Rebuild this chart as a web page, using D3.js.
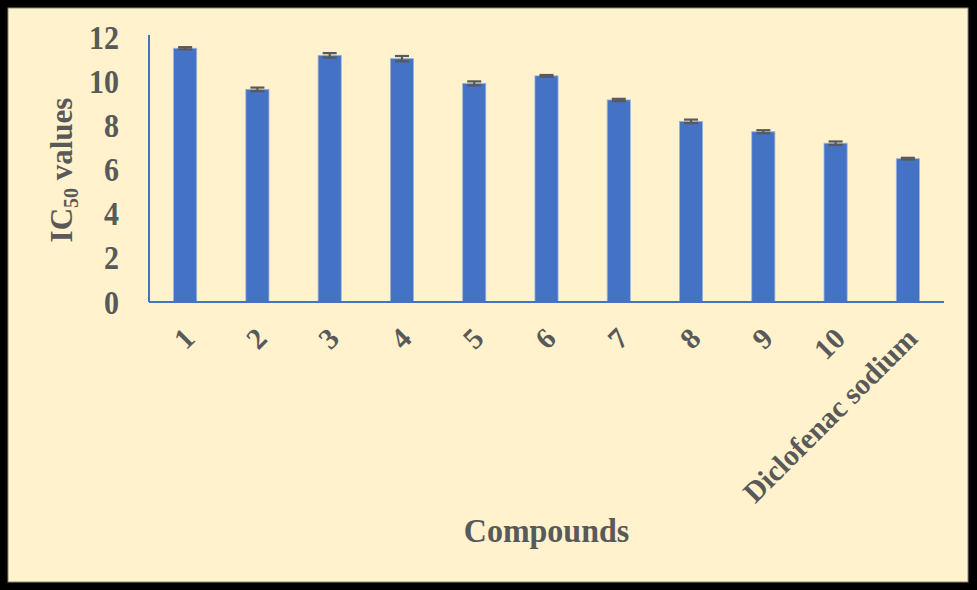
<!DOCTYPE html>
<html><head><meta charset="utf-8">
<script src="https://cdn.jsdelivr.net/npm/d3@7"></script>
<style>body{margin:0;background:#000}svg{display:block}</style>
</head><body>
<script>
const categories = ["1","2","3","4","5","6","7","8","9","10","Diclofenac sodium"];
const values = [11.49, 9.63, 11.17, 11.02, 9.90, 10.24, 9.15, 8.18, 7.71, 7.19, 6.49];
const errors = [0.05, 0.08, 0.10, 0.12, 0.09, 0.04, 0.05, 0.08, 0.07, 0.08, 0.04];
const yTicks = [0, 2, 4, 6, 8, 10, 12];

(function () {
const W = 977, H = 590;
const svg = d3.select("body").append("svg").attr("width", W).attr("height", H);
svg.append("rect").attr("width", W).attr("height", H).attr("fill", "#000");
svg.append("rect").attr("x", 8).attr("y", 8).attr("width", 960).attr("height", 574)
  .attr("fill", "#FFF2CC").attr("stroke", "#8a8a7a").attr("stroke-width", 1);

const mLeft = 149, mRight = 944, mTop = 37, mBottom = 302;
const x = d3.scaleBand().domain(categories).range([mLeft, mRight]).paddingInner(0.68).paddingOuter(0.34);
const y = d3.scaleLinear().domain([0, 12]).range([mBottom, mTop]);
const font = "'Liberation Serif','Times New Roman',serif";
const txt = "#595959";

// bars
svg.selectAll("rect.bar").data(values).join("rect").attr("class", "bar")
  .attr("x", (d, i) => x(categories[i]))
  .attr("y", d => y(d))
  .attr("width", x.bandwidth())
  .attr("height", d => mBottom - y(d))
  .attr("fill", "#4472C4").attr("stroke", "#9db3dc").attr("stroke-width", 0.8);

// error bars
const eb = svg.append("g").attr("stroke", "#595959").attr("stroke-width", 2.2);
values.forEach((v, i) => {
  const cx = x(categories[i]) + x.bandwidth() / 2;
  const y1 = y(v + errors[i]), y2 = y(v - errors[i]);
  eb.append("line").attr("x1", cx).attr("x2", cx).attr("y1", y1).attr("y2", y2);
  eb.append("line").attr("x1", cx - 7).attr("x2", cx + 7).attr("y1", y1).attr("y2", y1);
  eb.append("line").attr("x1", cx - 7).attr("x2", cx + 7).attr("y1", y2).attr("y2", y2);
});

// axes lines
svg.append("line").attr("x1", mLeft).attr("x2", mLeft).attr("y1", 35).attr("y2", mBottom)
  .attr("stroke", "#4472C4").attr("stroke-width", 2);
svg.append("line").attr("x1", mLeft).attr("x2", mRight).attr("y1", mBottom).attr("y2", mBottom)
  .attr("stroke", "#4472C4").attr("stroke-width", 2);

// y tick labels
svg.selectAll("text.yt").data(yTicks).join("text").attr("class", "yt")
  .attr("transform", d => `translate(119,${y(d)}) scale(1,1.1)`).attr("dy", "0.35em")
  .attr("text-anchor", "end").attr("font-family", font).attr("font-weight", "bold")
  .attr("font-size", 30).attr("fill", txt).text(d => d);

// x tick labels
svg.selectAll("text.xt").data(categories).join("text").attr("class", "xt")
  .attr("transform", d => `translate(${x(d) + x.bandwidth() / 2 + 4},${mBottom + 31}) rotate(-45)`)
  .attr("text-anchor", "end").attr("dy", "0.35em")
  .attr("font-family", font).attr("font-weight", "bold")
  .attr("font-size", 29.5).attr("fill", txt).text(d => d);

// axis titles
svg.append("text").attr("transform", `translate(${(mLeft + mRight) / 2},542) scale(1,1.08)`).attr("text-anchor", "middle")
  .attr("font-family", font).attr("font-weight", "bold").attr("font-size", 32).attr("fill", txt)
  .text("Compounds");

const yl = svg.append("text").attr("transform", "translate(72,170) rotate(-90) scale(1,1.05)")
  .attr("text-anchor", "middle").attr("font-family", font).attr("font-weight", "bold")
  .attr("font-size", 31).attr("fill", txt);
yl.append("tspan").text("IC");
yl.append("tspan").attr("font-size", 20).attr("dy", 6).text("50");
yl.append("tspan").attr("dy", -6).text(" values");
})();
</script>
</body></html>
